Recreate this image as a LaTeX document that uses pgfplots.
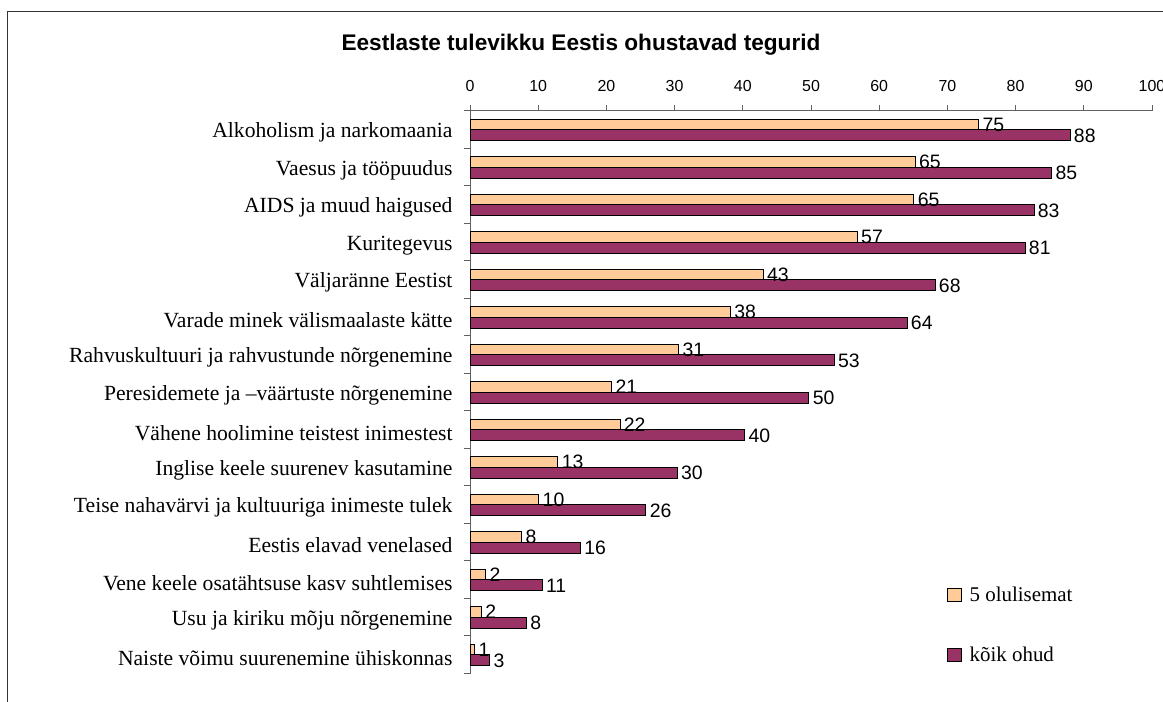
\documentclass[border=0pt]{standalone}
\usepackage{fontspec}
\setmainfont{Liberation Serif}
\newfontfamily\arial{Liberation Sans}
\usepackage{pgfplots}
\pgfplotsset{compat=1.18}
\usepackage{pgfplotstable}
\definecolor{peach}{HTML}{FFCC99}
\definecolor{plum}{HTML}{993366}
\definecolor{axgray}{HTML}{606060}
\pgfplotstableread{
y a b
14 74.6 88.0
13 65.3 85.3
12 65.1 82.7
11 56.8 81.4
10 43.0 68.2
9 38.2 64.1
8 30.6 53.4
7 20.8 49.7
6 22.0 40.3
5 12.9 30.4
4 10.1 25.8
3 7.6 16.2
2 2.3 10.6
1 1.7 8.3
0 0.7 2.9
}\data
\begin{document}
\begin{tikzpicture}
\draw[black!80, line width=1bp] (7.5bp,0bp) -- (7.5bp,690.5bp) -- (1163bp,690.5bp);
\node[font=\arial\bfseries\fontsize{22.7}{24}\selectfont] at (581bp,657bp) {Eestlaste tulevikku Eestis ohustavad tegurid};
\begin{axis}[
  at={(470bp,28.5bp)}, anchor=south west,
  scale only axis, width=682bp, height=562.5bp,
  xmin=0, xmax=100, ymin=-0.5, ymax=14.5,
  enlargelimits=false, clip=false,
  axis x line=top, axis y line=left,
  axis line style={axgray, line width=1bp, -},
  tick style={axgray, line width=1bp},
  tick align=outside, major tick length=6bp,
  xtick={0,10,...,100},
  xticklabel style={font=\arial\fontsize{16}{16}\selectfont, yshift=9.5bp},
  /pgf/number format/assume math mode=true,
  ytick={-0.5,0.5,...,14.5},
  yticklabels={Naiste võimu suurenemine ühiskonnas,
    Usu ja kiriku mõju nõrgenemine,
    Vene keele osatähtsuse kasv suhtlemises,
    Eestis elavad venelased,
    Teise nahavärvi ja kultuuriga inimeste tulek,
    Inglise keele suurenev kasutamine,
    Vähene hoolimine teistest inimestest,
    Peresidemete ja –väärtuste nõrgenemine,
    Rahvuskultuuri ja rahvustunde nõrgenemine,
    Varade minek välismaalaste kätte,
    Väljaränne Eestist,
    Kuritegevus,
    AIDS ja muud haigused,
    Vaesus ja tööpuudus,
    Alkoholism ja narkomaania,{}},
  yticklabel style={font=\fontsize{21.7}{22}\selectfont, yshift=15.75bp, xshift=-8bp},
  xbar, bar width=10.7bp,
  point meta=x,
  nodes near coords={\pgfmathprintnumber[fixed,precision=0]{\pgfplotspointmeta}},
  every node near coord/.append style={font=\arial\fontsize{19.5}{19.5}\selectfont, text=black},
  legend image code/.code={\draw[#1, line width=1bp] (0bp,-6.75bp) rectangle (13.5bp,6.75bp);},
  legend style={at={(0.695,0.158)}, anchor=north west, draw=none, fill=none,
    font=\fontsize{21}{21}\selectfont, row sep=44bp, column sep=8bp,
    nodes={inner sep=0pt}, legend cell align=left},
]
\addplot[xbar, bar shift=5.1bp, fill=peach, draw=black, line width=1bp] table[x=a, y=y] {\data};
\addlegendentry{5 olulisemat}
\addplot[xbar, bar shift=-5.6bp, fill=plum, draw=black, line width=1bp] table[x=b, y=y] {\data};
\addlegendentry{kõik ohud}
\end{axis}
\pgfresetboundingbox
\path[use as bounding box] (0bp,0bp) rectangle (1163bp,702bp);
\end{tikzpicture}
\end{document}
